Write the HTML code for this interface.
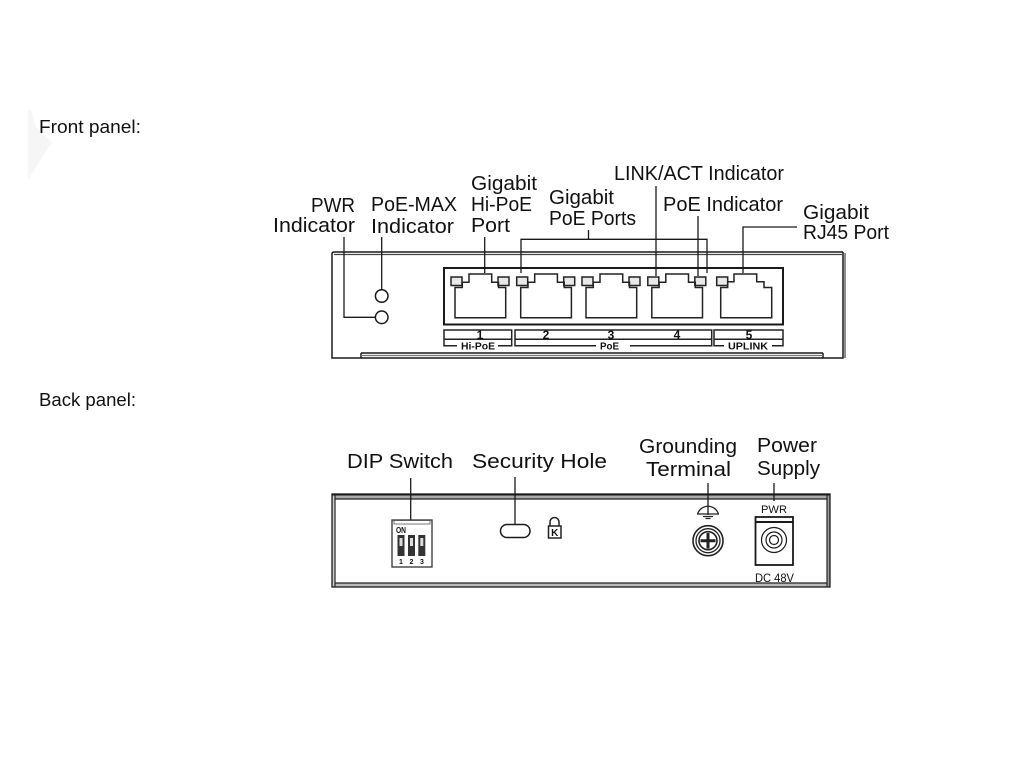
<!DOCTYPE html>
<html><head><meta charset="utf-8"><style>
html,body{margin:0;padding:0;background:#fff;width:1024px;height:768px;overflow:hidden}
svg{display:block}
text{font-family:"Liberation Sans",sans-serif;fill:#111}
.l{font-size:20px}.h{font-size:18px}
.b{font-size:9px;font-weight:bold}
</style></head><body>
<svg width="1024" height="768" viewBox="0 0 1024 768" xmlns="http://www.w3.org/2000/svg">
<polygon points="28,110 31,110 36,127 52,142 28,180" fill="#f6f6f6"/>
<text class="h" x="39" y="133" textLength="102" lengthAdjust="spacingAndGlyphs">Front panel:</text>
<text class="h" x="39" y="406" textLength="97" lengthAdjust="spacingAndGlyphs">Back panel:</text>
<text class="l" x="311" y="212" textLength="44" lengthAdjust="spacingAndGlyphs">PWR</text>
<text class="l" x="273" y="232" textLength="82" lengthAdjust="spacingAndGlyphs">Indicator</text>
<text class="l" x="371" y="211" textLength="86" lengthAdjust="spacingAndGlyphs">PoE-MAX</text>
<text class="l" x="371" y="233" textLength="83" lengthAdjust="spacingAndGlyphs">Indicator</text>
<text class="l" x="471" y="190" textLength="66" lengthAdjust="spacingAndGlyphs">Gigabit</text>
<text class="l" x="471" y="211" textLength="61" lengthAdjust="spacingAndGlyphs">Hi-PoE</text>
<text class="l" x="471" y="232" textLength="39" lengthAdjust="spacingAndGlyphs">Port</text>
<text class="l" x="549" y="204" textLength="65" lengthAdjust="spacingAndGlyphs">Gigabit</text>
<text class="l" x="549" y="225" textLength="87" lengthAdjust="spacingAndGlyphs">PoE Ports</text>
<text class="l" x="614" y="180" textLength="170" lengthAdjust="spacingAndGlyphs">LINK/ACT Indicator</text>
<text class="l" x="663" y="211" textLength="120" lengthAdjust="spacingAndGlyphs">PoE Indicator</text>
<text class="l" x="803" y="219" textLength="66" lengthAdjust="spacingAndGlyphs">Gigabit</text>
<text class="l" x="803" y="239" textLength="86" lengthAdjust="spacingAndGlyphs">RJ45 Port</text>
<text class="l" x="347" y="468" textLength="106" lengthAdjust="spacingAndGlyphs">DIP Switch</text>
<text class="l" x="472" y="468" textLength="135" lengthAdjust="spacingAndGlyphs">Security Hole</text>
<text class="l" x="639" y="453" textLength="98" lengthAdjust="spacingAndGlyphs">Grounding</text>
<text class="l" x="646" y="476" textLength="85" lengthAdjust="spacingAndGlyphs">Terminal</text>
<text class="l" x="757" y="452" textLength="60" lengthAdjust="spacingAndGlyphs">Power</text>
<text class="l" x="757" y="475" textLength="63" lengthAdjust="spacingAndGlyphs">Supply</text>

<!-- Front panel -->
<g fill="none" stroke="#1a1a1a" stroke-width="1.5">
<path d="M843,252 H334 Q332,252 332,254 V358 H843 V252"/>
<path d="M334,254.5 H842" stroke="#444" stroke-width="1.2"/>
<path d="M361,353 H823 M361,353 V358 M823,353 V358"/>
<path d="M361,355.5 H823" stroke="#777" stroke-width="1.2"/>
<rect x="444" y="268" width="339" height="56.5" stroke-width="2"/>
<path d="M845,253 V358" stroke="#444" stroke-width="1.2"/>
<circle cx="381.7" cy="296" r="6.3"/>
<circle cx="381.7" cy="317.3" r="6.3"/>
<path d="M344,237 V317.3 H375.4" stroke-width="1.3"/>
<path d="M381.7,237 V289.7" stroke-width="1.3"/>
<path d="M484.7,237 V273" stroke-width="1.3"/>
<path d="M521,273 V239.3 H707 V273" stroke-width="1.3"/>
<path d="M588.5,230 V239.3" stroke-width="1.3"/>
<path d="M656,186 V276" stroke-width="1.3"/>
<path d="M698,216 V276" stroke-width="1.3"/>
<path d="M743,273 V227 H797" stroke-width="1.3"/>
</g>

<!-- ports -->
<g fill="none" stroke="#222" stroke-width="1.5">
<g>
<rect x="451" y="277" width="11" height="8.5" fill="#e8e8e8"/><rect x="498" y="277" width="11" height="8.5" fill="#e8e8e8"/>
<path d="M455,287.5 V317.7 H505.7 V287.5 H498.5 V282.3 H491.7 V274 H469 V282.3 H462.3 V287.5 Z"/>
</g>
<g transform="translate(65.7,0)">
<rect x="451" y="277" width="11" height="8.5" fill="#e8e8e8"/><rect x="498" y="277" width="11" height="8.5" fill="#e8e8e8"/>
<path d="M455,287.5 V317.7 H505.7 V287.5 H498.5 V282.3 H491.7 V274 H469 V282.3 H462.3 V287.5 Z"/>
</g>
<g transform="translate(131,0)">
<rect x="451" y="277" width="11" height="8.5" fill="#e8e8e8"/><rect x="498" y="277" width="11" height="8.5" fill="#e8e8e8"/>
<path d="M455,287.5 V317.7 H505.7 V287.5 H498.5 V282.3 H491.7 V274 H469 V282.3 H462.3 V287.5 Z"/>
</g>
<g transform="translate(196.8,0)">
<rect x="451" y="277" width="11" height="8.5" fill="#e8e8e8"/><rect x="498" y="277" width="11" height="8.5" fill="#e8e8e8"/>
<path d="M455,287.5 V317.7 H505.7 V287.5 H498.5 V282.3 H491.7 V274 H469 V282.3 H462.3 V287.5 Z"/>
</g>
<rect x="716.7" y="277" width="11" height="8.5" fill="#e8e8e8"/>
<path d="M720.7,287.5 V317.7 H771.7 V287.5 H764 V281.7 H756.7 V274 H734 V281.7 H727.7 V287.5 Z"/>
<path d="M444,339.3 V330 H511.7 V339.3 Z M444,339.3 V345.7 H457 M498,345.7 H511.7 V339.3"/>
<path d="M515,339.3 V330 H711.7 V339.3 Z M515,339.3 V345.7 H596 M630,345.7 H711.7 V339.3"/>
<path d="M714,339.3 V330 H783 V339.3 Z M714,339.3 V345.7 H724 M772,345.7 H783 V339.3"/>
</g>
<text class="b" x="480" y="339" text-anchor="middle" style="font-size:12px">1</text>
<text class="b" x="546" y="339" text-anchor="middle" style="font-size:12px">2</text>
<text class="b" x="611" y="339" text-anchor="middle" style="font-size:12px">3</text>
<text class="b" x="677" y="339" text-anchor="middle" style="font-size:12px">4</text>
<text class="b" x="749" y="339" text-anchor="middle" style="font-size:12px">5</text>
<text class="b" x="461" y="349.5" style="font-size:10px" textLength="34" lengthAdjust="spacingAndGlyphs">Hi-PoE</text>
<text class="b" x="600" y="349.5" style="font-size:10px" textLength="19" lengthAdjust="spacingAndGlyphs">PoE</text>
<text class="b" x="728" y="349.5" style="font-size:10px" textLength="40" lengthAdjust="spacingAndGlyphs">UPLINK</text>

<!-- Back panel -->
<rect x="335" y="494" width="492" height="5" fill="#aaa"/>
<rect x="335" y="583" width="492" height="4" fill="#bbb"/>
<rect x="332" y="494" width="3" height="93" fill="#ccc"/>
<rect x="827" y="494" width="3" height="93" fill="#999"/>
<g fill="none" stroke="#1a1a1a" stroke-width="1.3">
<rect x="332" y="494" width="498" height="93"/>
<path d="M335,494 V587 M827,494 V587" stroke="#333"/>
<path d="M332,494.5 H830" stroke-width="2"/>
<path d="M335,499 H827" stroke="#222"/>
<path d="M335,583 H827" stroke="#222"/>
<path d="M410.7,478 V520"/>
<path d="M515,477 V524"/>
<path d="M708,483 V515"/>
<path d="M774,483 V501"/>
<rect x="500.5" y="524.5" width="29.5" height="13" rx="6.5" stroke-width="1.5"/>
<rect x="392" y="520" width="40" height="47" stroke="#333"/>
<rect x="394" y="520.5" width="36" height="3.5" stroke="#555" stroke-width=".8"/>
</g>
<rect x="397.5" y="535" width="7" height="21" fill="#333"/>
<rect x="408" y="535" width="7" height="21" fill="#333"/>
<rect x="418.3" y="535" width="7" height="21" fill="#333"/>
<rect x="399.5" y="538" width="3" height="8" fill="#ddd"/>
<rect x="410" y="538" width="3" height="8" fill="#ddd"/>
<rect x="420.3" y="538" width="3" height="8" fill="#ddd"/>
<text class="b" x="396" y="533" style="font-size:8px" textLength="10" lengthAdjust="spacingAndGlyphs">ON</text>
<text class="b" x="401" y="564" text-anchor="middle" style="font-size:7px">1</text>
<text class="b" x="411.5" y="564" text-anchor="middle" style="font-size:7px">2</text>
<text class="b" x="422" y="564" text-anchor="middle" style="font-size:7px">3</text>
<g fill="none" stroke="#222" stroke-width="1.5">
<path d="M550,526 V522 A4.5,4.5 0 0 1 559,522 V526"/>
<rect x="548.5" y="526" width="12.5" height="12"/>
</g>
<text class="b" x="554.7" y="536" text-anchor="middle" style="font-size:10px">K</text>
<g fill="none" stroke="#222" stroke-width="1.3">
<path d="M697.5,514 A11,11 0 0 1 718.5,514 M697,514 H719"/>
<path d="M703,516.5 H713 M705.5,518.5 H710.5"/>
<circle cx="708" cy="540.7" r="15" stroke-width="1.6"/>
<circle cx="708" cy="540.7" r="12"/>
<circle cx="708" cy="540.7" r="9" stroke-width="1.6"/>
<path d="M708,533 V548.5 M700.5,540.7 H715.5" stroke-width="3"/>
</g>
<g fill="none" stroke="#1a1a1a">
<rect x="755.5" y="517" width="37.5" height="48" stroke-width="1.8"/>
<path d="M755.5,522 H793" stroke-width="2"/>
<circle cx="774" cy="540" r="12.5" stroke-width="1.2"/>
<circle cx="774" cy="540" r="8" stroke-width="1.2"/>
<circle cx="774" cy="540" r="4.5" stroke-width="1.2"/>
</g>
<text x="761" y="513" style="font-size:11px" textLength="26" lengthAdjust="spacingAndGlyphs">PWR</text>
<text x="755" y="582" style="font-size:12px" textLength="39" lengthAdjust="spacingAndGlyphs">DC 48V</text>
</svg>
</body></html>
